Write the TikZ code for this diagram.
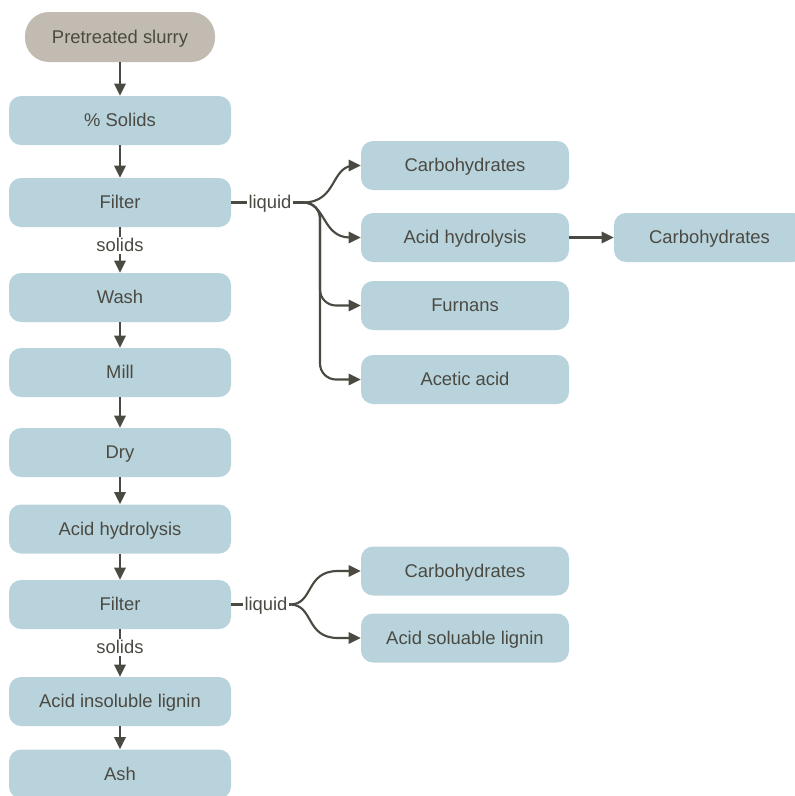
\documentclass[tikz,border=0pt]{standalone}
\usepackage{fontspec}
\setmainfont{Liberation Sans}
\usetikzlibrary{arrows.meta}
\definecolor{boxblue}{RGB}{185,211,220}
\definecolor{boxtan}{RGB}{193,187,177}
\definecolor{ink}{RGB}{74,74,66}
\begin{document}
\begin{tikzpicture}[x=0.75pt,y=-0.75pt,
  txt/.style={font=\fontsize{13.8}{16}\selectfont, text=ink, text height=10pt, text depth=1pt},
  stepbox/.style={txt, fill=boxblue, rounded corners=9pt, inner sep=0pt,
    minimum width=166.5pt, minimum height=36.75pt},
  sidebox/.style={stepbox, minimum width=156pt},
  farbox/.style={stepbox, minimum width=143.25pt},
  startbox/.style={txt, fill=boxtan, rounded corners=18pt, inner sep=0pt,
    minimum width=142.5pt, minimum height=37.5pt},
  lbl/.style={txt, fill=white, inner sep=1pt},
  arr/.style={draw=ink, line width=1.6pt, -{Triangle[length=9pt,width=8.5pt]}},
  ln/.style={draw=ink, line width=1.6pt}]
\useasboundingbox (0,0) rectangle (795,796);

% main column
\node[startbox] (slurry) at (120,37)    {Pretreated slurry};
\node[stepbox]  (solids) at (120,120.5) {\% Solids};
\node[stepbox]  (filt1)  at (120,202.5) {Filter};
\node[stepbox]  (wash)   at (120,297.5) {Wash};
\node[stepbox]  (mill)   at (120,372.5) {Mill};
\node[stepbox]  (dry)    at (120,452.5) {Dry};
\node[stepbox]  (hyd1)   at (120,529)   {Acid hydrolysis};
\node[stepbox]  (filt2)  at (120,604.5) {Filter};
\node[stepbox]  (ail)    at (120,701.5) {Acid insoluble lignin};
\node[stepbox]  (ash)    at (120,774)   {Ash};

% first liquid fraction
\node[sidebox] (carb1)  at (465,165.5) {Carbohydrates};
\node[sidebox] (hyd2)   at (465,237.5) {Acid hydrolysis};
\node[sidebox] (furn)   at (465,305.5) {Furnans};
\node[sidebox] (acet)   at (465,379.5) {Acetic acid};
\node[farbox]  (carb2)  at (709.5,237.5) {Carbohydrates};

% second liquid fraction
\node[sidebox] (carb3)  at (465,571)   {Carbohydrates};
\node[sidebox] (asl)    at (465,638)   {Acid soluable lignin};

% vertical flow
\draw[arr] (slurry) -- (solids);
\draw[arr] (solids) -- (filt1);
\draw[arr] (filt1) -- node[lbl, pos=0.4] {solids} (wash);
\draw[arr] (wash) -- (mill);
\draw[arr] (mill) -- (dry);
\draw[arr] (dry) -- (hyd1);
\draw[arr] (hyd1) -- (filt2);
\draw[arr] (filt2) -- node[lbl, pos=0.38] {solids} (ail);
\draw[arr] (ail) -- (ash);

% liquid split after first filter
\node[lbl] (liq1) at (270,202.5) {liquid};
\coordinate (j1) at (303,202.5);
\draw[ln] (filt1) -- (liq1);
\draw[ln] (liq1) -- (j1);
\draw[arr] (j1) .. controls (338,202.5) and (330,165.5) .. (355,165.5) -- (carb1.west);
\draw[arr] (j1) .. controls (326,202.5) and (322,237.5) .. (350,237.5) -- (hyd2.west);
\draw[arr, rounded corners=12] (j1) -| (320,305.5) -- (furn.west);
\draw[arr, rounded corners=12] (j1) -| (320,379.5) -- (acet.west);
\draw[arr] (hyd2) -- (carb2);

% liquid split after second filter
\node[lbl] (liq2) at (266,604.5) {liquid};
\coordinate (j2) at (290,604.5);
\draw[ln] (filt2) -- (liq2);
\draw[ln] (liq2) -- (j2);
\draw[arr] (j2) .. controls (314,604.5) and (305,571) .. (338,571) -- (carb3.west);
\draw[arr] (j2) .. controls (314,604.5) and (305,638) .. (338,638) -- (asl.west);
\end{tikzpicture}
\end{document}
